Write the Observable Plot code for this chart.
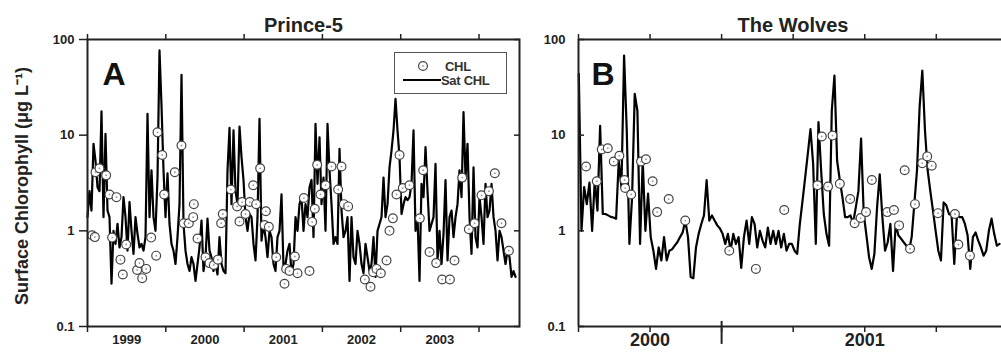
<!DOCTYPE html>
<html><head><meta charset="utf-8">
<script src="https://cdn.jsdelivr.net/npm/d3@7"></script>
<script src="https://cdn.jsdelivr.net/npm/@observablehq/plot@0.6"></script>
<style>
body{margin:0;background:#fff;}
#wrap{position:relative;width:1001px;height:358px;overflow:hidden;font-family:"Liberation Sans",Arial,sans-serif;background:#fff;}
#wrap svg.panel{position:absolute;top:0;}
#legend{position:absolute;left:394px;top:52px;width:111px;height:40px;border:1px solid #555;background:#fff;}
</style></head><body><div id="wrap"></div>
<script>
// ---------- data ----------
const titles = ["Prince-5", "The Wolves"];
const panelLetters = ["A", "B"];
const yLabel = "Surface Chlorophyll (\u03BCg L\u207B\u00B9)";
const yTicks = [0.1, 1, 10, 100];
const yTickLabels = ["0.1", "1", "10", "100"];
const legendLabels = ["CHL", "Sat CHL"];

// Panel A (Prince-5)
const xDomainA = [1999, 2004.517];
const tickYearsA = [1999, 2000, 2001, 2002, 2003, 2004];
const yearLabelsA = ["1999", "2000", "2001", "2002", "2003"];
const satA_start = 1999.0, satA_step = 0.025543; // years between satellite values
const satA = [
1.39,2.6,1.63,8.1,5.4,2.86,2.6,17.7,1.39,10.3,1.63,1.39,0.28,1.0,0.73,1.18,0.67,0.86,2.25,1.39,
0.62,2.0,1.0,0.575,1.39,0.93,0.67,0.73,0.62,0.86,16.7,1.39,4.3,1.39,1.0,3.6,76.8,20.4,4.3,1.39,
4.0,1.18,0.73,0.62,0.45,0.86,1.9,42.7,1.18,0.62,0.45,0.38,0.53,0.45,0.30,0.45,0.67,1.28,0.38,0.53,
1.34,0.62,0.53,0.38,0.45,0.35,0.86,0.45,0.38,0.36,4.3,11.9,1.9,11.2,2.6,1.9,12.3,5.9,3.4,1.39,
1.0,1.5,1.39,0.73,0.49,1.39,14.8,0.79,1.18,0.86,0.53,1.0,0.86,0.45,0.38,0.86,1.0,2.4,0.41,0.45,
0.62,0.73,0.36,0.45,1.39,1.0,1.9,2.25,1.0,1.9,
1.39,2.86,3.4,0.86,13.1,3.1,9.5,1.9,3.6,1.0,13.1,4.3,1.9,0.73,0.86,0.73,7.2,1.63,0.86,1.0,
1.39,0.30,1.39,0.53,0.45,1.0,0.73,0.45,0.36,0.73,0.53,0.38,0.45,0.86,0.33,1.0,1.18,1.39,3.6,1.39,
1.9,4.6,6.9,11.2,24.0,11.2,5.9,1.5,1.9,2.25,2.1,2.25,3.1,11.2,1.0,1.39,0.30,3.1,2.25,7.5,
2.6,1.0,1.18,1.39,5.0,0.49,1.0,0.45,0.93,3.4,0.49,1.39,1.63,0.86,1.39,1.9,4.3,2.25,17.4,3.6,
8.1,1.39,0.575,4.6,0.86,0.67,2.25,1.39,0.73,3.1,1.39,1.63,3.1,1.39,1.0,0.49,1.0,0.86,0.62,0.45,
0.62,0.53,0.33,0.38,0.33
];
const chlA_t = [
1999.060,1999.094,1999.102,1999.153,1999.238,1999.281,1999.315,1999.370,1999.421,1999.451,
1999.494,1999.634,1999.664,1999.698,1999.749,1999.813,1999.877,1999.894,1999.954,1999.979,
2000.115,2000.200,2000.230,2000.294,2000.350,2000.358,2000.405,2000.507,2000.558,2000.613,
2000.665,2000.707,2000.728,2000.831,2000.911,2000.941,2000.975,2001.018,2001.073,2001.116,
2001.154,2001.205,2001.261,2001.278,2001.316,2001.410,2001.516,2001.537,2001.580,2001.648,
2001.682,2001.763,2001.835,2001.869,2001.903,2001.933,2001.976,2002.040,2002.116,2002.201,
2002.244,2002.274,2002.329,2002.542,2002.614,2002.648,2002.691,2002.746,2002.819,2002.857,
2002.900,2002.946,2002.985,2003.027,2003.112,2003.244,2003.287,2003.368,2003.453,2003.530,
2003.628,2003.687,2003.785,2003.870,2003.943,2004.032,2004.126,2004.202,2004.287,2004.381
];
const chlA_v = [
0.9,0.86,4.1,4.5,3.8,2.4,0.85,2.25,0.5,0.35,
0.72,0.39,0.46,0.32,0.40,0.85,0.55,10.7,6.2,2.4,
4.1,7.8,1.2,1.2,1.39,1.9,0.83,0.53,0.46,0.44,
0.5,1.2,1.5,2.7,1.8,1.25,2.0,1.5,2.0,3.0,
1.9,4.5,1.15,1.6,1.1,0.53,0.28,0.40,0.38,0.54,
0.36,2.2,0.38,1.24,1.7,4.9,2.4,3.0,4.7,2.7,
4.7,1.9,1.8,0.31,0.26,0.37,0.40,0.36,0.49,1.0,
1.35,2.4,6.2,2.8,3.0,1.35,4.3,0.6,0.46,0.31,
0.31,0.49,3.6,1.04,1.2,2.35,2.6,4.0,1.2,0.62
];

// Panel B (The Wolves)
const xDomainB = [1999.6667, 2001.637];
const tickYearsB = [1999.6667, 2000, 2000.3333, 2000.6667, 2001, 2001.3333];
const yearLabelsB = ["2000", "2001"];
const markB = [2000.3333];
const satB_start = 1999.6682, satB_step = 0.012403;
const satB = [
43.7,1.0,2.86,1.9,3.2,1.0,3.4,1.63,12.5,1.5,1.5,1.45,1.4,1.38,1.34,5.4,2.86,68,11.2,0.73,
2.25,27,18,0.73,5.4,1.0,2.45,0.86,0.62,0.40,0.67,0.49,0.86,0.49,0.62,0.64,0.70,0.76,0.86,0.96,
1.28,0.86,0.33,0.32,0.67,0.93,1.18,1.45,3.4,1.28,1.45,1.28,1.14,1.06,0.93,0.73,0.93,0.62,0.93,0.73,
0.86,0.41,0.86,1.28,0.73,1.39,1.18,0.67,1.0,0.79,0.67,1.08,0.73,1.0,0.73,1.0,0.67,0.93,0.62,0.73,
0.73,0.62,0.575,1.18,2.05,3.6,6.4,11.6,5.0,0.73,13.7,4.3,1.5,0.93,0.70,18,42,5.4,3.4,2.25,
1.39,1.39,1.45,1.2,1.75,2.6,9.2,1.5,0.9,0.53,0.40,0.575,1.75,3.9,1.39,0.62,0.76,1.18,0.38,1.18,
0.9,0.83,0.76,0.70,0.62,0.86,1.9,4.3,20,47.4,11.2,4.3,2.6,1.63,1.0,0.62,0.49,1.98,1.85,1.5,
1.45,0.45,1.45,1.39,1.39,1.18,0.9,0.40,0.86,0.96,0.79,0.67,0.55,0.62,1.0,1.34,0.93,0.70,0.73
];
const chlB_t = [
1999.702,1999.752,1999.775,1999.803,1999.831,1999.857,1999.881,1999.884,1999.912,1999.958,
1999.981,2000.012,2000.033,2000.087,2000.164,2000.369,2000.493,2000.625,2000.780,2000.800,
2000.829,2000.850,2000.884,2000.932,2000.953,2000.981,2001.006,2001.033,2001.105,2001.136,
2001.160,2001.186,2001.211,2001.234,2001.268,2001.291,2001.312,2001.341,2001.420,2001.436,
2001.490
];
const chlB_v = [
4.7,3.3,7.1,7.3,5.3,6.1,3.4,2.8,2.4,5.3,
5.6,3.3,1.57,2.15,1.28,0.62,0.40,1.65,3.0,9.7,
2.9,9.9,3.1,2.15,1.2,1.36,1.57,3.4,1.57,1.65,
1.14,4.3,0.65,1.9,5.1,6.0,4.8,1.53,1.5,0.72,
0.55
];

// ---------- tables ----------
const satAData = satA.map((v, i) => ({t: satA_start + i * satA_step, v}));
const satBData = satB.map((v, i) => ({t: satB_start + i * satB_step, v}));
const chlAData = chlA_t.map((t, i) => ({t, v: chlA_v[i]}));
const chlBData = chlB_t.map((t, i) => ({t, v: chlB_v[i]}));

const FONT = '"Liberation Sans", Arial, sans-serif';
const INK = "#222";
const fmtY = d => yTickLabels[yTicks.indexOf(d)];
const blank = () => "";

function dataMarks(sat, chl) {
  return [
    Plot.line(sat, {x: "t", y: "v", stroke: "#000", strokeWidth: 2.2}),
    Plot.dot(chl, {x: "t", y: "v", r: 4.4, fill: "#fff", stroke: "#444", strokeWidth: 1.2}),
    Plot.dot(chl, {x: "t", y: "v", r: 0.9, fill: "#999"})
  ];
}

const plotA = Plot.plot({
  width: 540, height: 358,
  marginLeft: 87, marginRight: 21, marginTop: 39, marginBottom: 32,
  x: {domain: xDomainA},
  y: {type: "log", domain: [0.1, 100]},
  style: {fontFamily: FONT, fontSize: "13px", fontWeight: "bold", color: INK, background: "transparent"},
  marks: [
    ...dataMarks(satAData, chlAData),
    Plot.frame({stroke: INK, strokeWidth: 2}),
    Plot.axisY({ticks: yTicks, tickSize: 8, tickPadding: 5, tickFormat: fmtY, label: null, strokeWidth: 1.5}),
    Plot.axisY({anchor: "right", ticks: yTicks, tickSize: 6, dx: -6, tickFormat: blank, label: null, strokeWidth: 1.5}),
    Plot.axisX({anchor: "top", ticks: tickYearsA, tickSize: 6, tickFormat: blank, label: null, strokeWidth: 1.5}),
    Plot.axisX({anchor: "bottom", ticks: tickYearsA, tickSize: 6, tickFormat: blank, label: null, strokeWidth: 1.5}),
    Plot.text(yearLabelsA, {x: d => +d + 0.5, text: d => d, frameAnchor: "bottom", dy: 17, fontSize: 13, fontWeight: "bold", fill: INK}),
    Plot.text([titles[0]], {text: d => d, frameAnchor: "top", dy: -22, fontSize: 20, fontWeight: "bold", fill: INK}),
    Plot.text([panelLetters[0]], {text: d => d, frameAnchor: "top-left", dx: 15, dy: 23, fontSize: 32, fontWeight: "bold", textAnchor: "start", lineAnchor: "top", fill: "#111"}),
    Plot.text([yLabel], {text: d => d, frameAnchor: "left", textAnchor: "middle", dx: -65, dy: 3, rotate: -90, fontSize: 18, fontWeight: "bold", fill: INK})
  ]
});

const plotB = Plot.plot({
  width: 461, height: 358,
  marginLeft: 38, marginRight: 0, marginTop: 39, marginBottom: 32,
  x: {domain: xDomainB},
  y: {type: "log", domain: [0.1, 100]},
  style: {fontFamily: FONT, fontSize: "13px", fontWeight: "bold", color: INK, background: "transparent"},
  marks: [
    ...dataMarks(satBData, chlBData),
    Plot.ruleX([xDomainB[0]], {stroke: INK, strokeWidth: 2}),
    Plot.ruleY([0.1, 100], {stroke: INK, strokeWidth: 2}),
    Plot.axisY({ticks: yTicks, tickSize: 6, dx: 6, tickFormat: blank, label: null, strokeWidth: 1.5}),
    Plot.axisY({ticks: yTicks, tickSize: 0, tickPadding: 13, tickFormat: fmtY, label: null}),
    Plot.axisX({anchor: "top", ticks: tickYearsB, tickSize: 6, tickFormat: blank, label: null, strokeWidth: 1.5}),
    Plot.axisX({anchor: "bottom", ticks: tickYearsB, tickSize: 6, tickFormat: blank, label: null, strokeWidth: 1.5}),
    Plot.ruleX(markB, {y1: 0.113, y2: 0.065, stroke: INK, strokeWidth: 2}),
    Plot.text(yearLabelsB, {x: d => +d, text: d => d, frameAnchor: "bottom", dy: 19, fontSize: 18, fontWeight: "bold", fill: INK}),
    Plot.text([titles[1]], {text: d => d, frameAnchor: "top", dx: 3, dy: -22, fontSize: 20, fontWeight: "bold", fill: INK}),
    Plot.text([panelLetters[1]], {text: d => d, frameAnchor: "top-left", dx: 13, dy: 23, fontSize: 32, fontWeight: "bold", textAnchor: "start", lineAnchor: "top", fill: "#111"})
  ]
});

const wrap = document.getElementById("wrap");
plotA.classList.add("panel"); plotA.style.left = "0px";
plotB.classList.add("panel"); plotB.style.left = "540px";
wrap.appendChild(plotA);
wrap.appendChild(plotB);

// legend
const legend = document.createElement("div");
legend.id = "legend";
legend.innerHTML = `<svg width="111" height="40" style="display:block;font-family:${FONT.replace(/"/g, "'")};font-weight:bold;font-size:13px;fill:#333">
  <circle cx="28" cy="13" r="4.4" fill="#fff" stroke="#444" stroke-width="1.2"></circle>
  <circle cx="28" cy="13" r="0.9" fill="#999"></circle>
  <text x="50" y="13" dy="0.35em" letter-spacing="-0.3">${legendLabels[0]}</text>
  <line x1="8" x2="46" y1="27" y2="27" stroke="#000" stroke-width="1.8"></line>
  <text x="46" y="27" dy="0.35em" letter-spacing="-0.3">${legendLabels[1]}</text>
</svg>`;
wrap.appendChild(legend);
</script></body></html>
